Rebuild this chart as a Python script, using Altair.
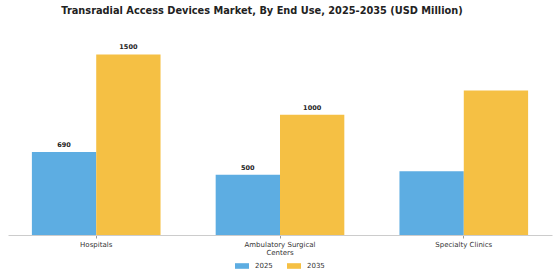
import altair as alt
import pandas as pd

categories = ["Hospitals", "Ambulatory Surgical Centers", "Specialty Clinics"]
years = ["2025", "2035"]
values_2025 = [690, 500, 530]
values_2035 = [1500, 1000, 1200]
labels_2025 = ["690", "500", ""]
labels_2035 = ["1500", "1000", ""]

rows = []
for i, c in enumerate(categories):
    rows.append({"cat": c, "year": "2025", "value": values_2025[i], "label": labels_2025[i]})
    rows.append({"cat": c, "year": "2035", "value": values_2035[i], "label": labels_2035[i]})
df = pd.DataFrame(rows)

colors = ["#5DADE2", "#F5C044"]

x = alt.X("cat:N", sort=categories, title=None,
          scale=alt.Scale(paddingInner=0.3, paddingOuter=0.13),
          axis=alt.Axis(labelAngle=0, labelFontSize=7, labelColor="#333333", labelFont="DejaVu Sans",
                        domainColor="#cccccc", tickColor="#999999", tickSize=3, labelPadding=2,
                        labelLineHeight=8,
                        labelExpr="datum.label == 'Ambulatory Surgical Centers' ? ['Ambulatory Surgical', 'Centers'] : datum.label"))
y = alt.Y("value:Q", scale=alt.Scale(domain=[0, 1662]), axis=None)

base = alt.Chart(df).encode(x=x, xOffset=alt.XOffset("year:N", sort=years))

bars = base.mark_bar().encode(
    y=y,
    color=alt.Color("year:N", sort=years, scale=alt.Scale(domain=years, range=colors),
                    legend=alt.Legend(title=None, orient="none", direction="horizontal",
                                      legendX=227, legendY=224,
                                      symbolType="M-1,-0.4L1,-0.4L1,0.4L-1,0.4Z", symbolSize=196,
                                      symbolStrokeWidth=0, labelOffset=6,
                                      labelFontSize=7, labelFont="DejaVu Sans", labelColor="#333333",
                                      columnPadding=14)),
)

text = base.mark_text(dy=-7, fontSize=6.5, fontWeight="bold", font="DejaVu Sans", color="#222222").encode(
    y=y, text="label:N")

chart = (bars + text).properties(
    width=544, height=200,
    padding={"left": 8, "top": 35, "right": 8, "bottom": 45},
    autosize=alt.AutoSizeParams(type="none"),
    title=alt.TitleParams("Transradial Access Devices Market, By End Use, 2025-2035 (USD Million)",
                          fontSize=9.8, font="DejaVu Sans", fontWeight="bold", color="#222222",
                          anchor="middle", offset=19, dx=-18),
).configure_view(stroke=None).configure_axis(grid=False)

chart.save("out.html", embed_options={"renderer": "svg", "actions": False})
